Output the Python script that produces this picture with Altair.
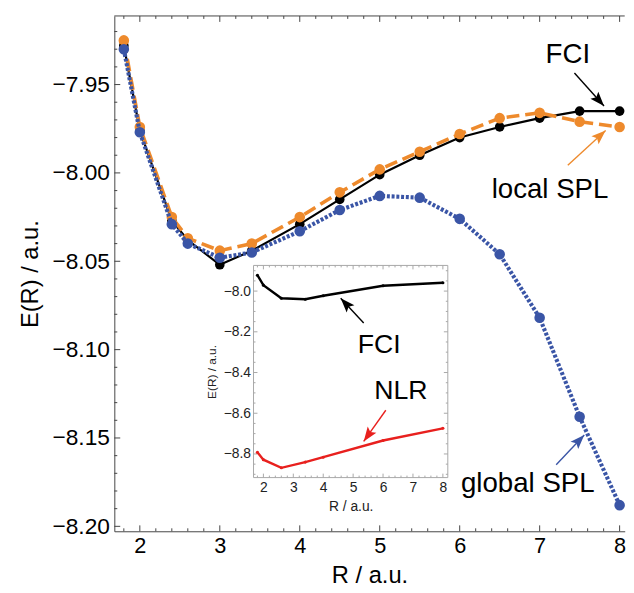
import math
import altair as alt
import pandas as pd

# ---------------- data ----------------
R_main = [1.8, 2.0, 2.4, 2.6, 3.0, 3.4, 4.0, 4.5, 5.0, 5.5, 6.0, 6.5, 7.0, 7.5, 8.0]
E_fci = [-7.928, -7.976, -8.027, -8.038, -8.052, -8.044, -8.029, -8.015,
         -8.001, -7.990, -7.980, -7.974, -7.969, -7.965, -7.965]
E_local = [-7.925, -7.974, -8.025, -8.037, -8.044, -8.040, -8.025, -8.011,
           -7.998, -7.988, -7.978, -7.969, -7.966, -7.971, -7.974]
E_global = [-7.930, -7.977, -8.029, -8.040, -8.048, -8.045, -8.033, -8.021,
            -8.013, -8.014, -8.026, -8.046, -8.082, -8.138, -8.188]

R_inset = [1.8, 2.0, 2.6, 3.4, 4.0, 6.0, 8.0]
E_fci_inset = [-7.922, -7.971, -8.035, -8.040, -8.023, -7.974, -7.959]
E_nlr_inset = [-8.792, -8.828, -8.868, -8.840, -8.816, -8.734, -8.674]

main_xticks = [2, 3, 4, 5, 6, 7, 8]
main_yticks = [-7.95, -8.00, -8.05, -8.10, -8.15, -8.20]
inset_xticks = [2, 3, 4, 5, 6, 7, 8]
inset_yticks = [-8.0, -8.2, -8.4, -8.6, -8.8]

main_labels = ["FCI", "local SPL", "global SPL"]
main_label_R = [7.352, 7.13, 6.852]
main_label_E = [-7.9334, -8.0097, -8.1759]
main_arrow_R0 = [7.435, 7.352, 7.207]
main_arrow_E0 = [-7.9435, -7.9956, -8.1651]
main_arrow_R1 = [7.805, 7.825, 7.558]
main_arrow_E1 = [-7.9621, -7.9760, -8.1483]

inset_labels = ["FCI", "NLR"]
inset_label_R = [5.871, 6.597]
inset_label_E = [-8.2667, -8.4897]
inset_arrow_R0 = [5.353, 6.092]
inset_arrow_E0 = [-8.1566, -8.5852]
inset_arrow_R1 = [4.584, 5.353]
inset_arrow_E1 = [-8.0354, -8.7384]

# ---------------- style / layout ----------------
BLACK = "#000000"
ORANGE = "#EE8A2C"
BLUE = "#3A55A6"
RED = "#E8201E"
FRAME = "#444444"
INSET_FRAME = "#A8A8A8"
FONT = "Liberation Sans"

W, H = 517, 522
XDOM = [1.681, 1.681 + W / 81.0]
YDOM = [-8.2028, -8.2028 + H / 1790.0]
SX, SY = 81.0, 1790.0

IX0, IX1 = 141.0, 337.8
IY_TOP, IY_BOT = 252.7, 467.6
IXDOM = [1.67, 8.165]
IYDOM = [-8.916, -7.874]
ISX = (IX1 - IX0) / (IXDOM[1] - IXDOM[0])
ISY = (IY_BOT - IY_TOP) / (IYDOM[1] - IYDOM[0])

HEAD = "M0,0L0.55,1.5L0,1.2L-0.55,1.5Z"

xs_main = alt.Scale(domain=XDOM, nice=False, zero=False)
ys_main = alt.Scale(domain=YDOM, nice=False, zero=False)
xs_in = alt.Scale(domain=IXDOM, nice=False, zero=False, range=[IX0, IX1])
ys_in = alt.Scale(domain=IYDOM, nice=False, zero=False, range=[IY_BOT, IY_TOP])


def angle(r0, e0, r1, e1, sx, sy):
    dx = (r1 - r0) * sx
    dy = -(e1 - e0) * sy
    return math.degrees(math.atan2(dx, -dy)) % 360


def minor(lo, hi, step, majors):
    n = int(round((hi - lo) / step))
    vals = [round(lo + i * step, 4) for i in range(n + 1)]
    return [v for v in vals if all(abs(v - m) > 1e-6 for m in majors)]


# ---------------- main plot ----------------
df_main = pd.DataFrame({"R": R_main, "fci": E_fci, "loc": E_local, "glob": E_global})

x_axis = alt.Axis(values=main_xticks, format="d", ticks=False, tickSize=0, grid=False,
                  domainColor=FRAME, domainWidth=1, labelFontSize=22, labelColor="black",
                  labelPadding=5, title="R / a.u.", titleFontSize=24, titleFontWeight="normal",
                  titleColor="black", titlePadding=7)
y_axis = alt.Axis(values=main_yticks, format=".2f", ticks=False, tickSize=0, grid=False,
                  domainColor=FRAME, domainWidth=1, labelFontSize=23, labelColor="black",
                  labelPadding=5, title="E(R) / a.u.", titleFontSize=24, titleFontWeight="normal",
                  titleColor="black", titlePadding=10)

base = alt.Chart(df_main)
fci_line = base.mark_line(color=BLACK, strokeWidth=2.2).encode(
    x=alt.X("R:Q", scale=xs_main, axis=x_axis),
    y=alt.Y("fci:Q", scale=ys_main, axis=y_axis))
fci_pts = base.mark_circle(color=BLACK, size=95, opacity=1).encode(
    x=alt.X("R:Q", scale=xs_main), y=alt.Y("fci:Q", scale=ys_main))
loc_line = base.mark_line(color=ORANGE, strokeWidth=3.6, strokeDash=[13, 6]).encode(
    x=alt.X("R:Q", scale=xs_main), y=alt.Y("loc:Q", scale=ys_main))
loc_pts = base.mark_circle(color=ORANGE, size=115, opacity=1).encode(
    x=alt.X("R:Q", scale=xs_main), y=alt.Y("loc:Q", scale=ys_main))
glob_line = base.mark_line(color=BLUE, strokeWidth=4.2, strokeDash=[3, 1.8]).encode(
    x=alt.X("R:Q", scale=xs_main), y=alt.Y("glob:Q", scale=ys_main))
glob_pts = base.mark_circle(color=BLUE, size=115, opacity=1).encode(
    x=alt.X("R:Q", scale=xs_main), y=alt.Y("glob:Q", scale=ys_main))

# frame top line and inward ticks
frame_df = pd.DataFrame({"k": [0]})
top_line = alt.Chart(frame_df).mark_rule(color=FRAME, strokeWidth=1).encode(
    x=alt.value(0), x2=alt.value(W), y=alt.value(0))

mx_minor = minor(1.8, 8.0, 0.2, main_xticks)
my_minor = minor(-8.20, -7.92, 0.01, main_yticks)


def xtick_layer(vals, y0, y1, scale, color):
    return alt.Chart(pd.DataFrame({"R": vals})).mark_rule(color=color, strokeWidth=1).encode(
        x=alt.X("R:Q", scale=scale), y=alt.value(y0), y2=alt.value(y1))


def ytick_layer(vals, x0, x1, scale, color, field):
    return alt.Chart(pd.DataFrame({field: vals})).mark_rule(color=color, strokeWidth=1).encode(
        y=alt.Y(f"{field}:Q", scale=scale), x=alt.value(x0), x2=alt.value(x1))


main_ticks = [
    xtick_layer(main_xticks, H, H - 6, xs_main, FRAME),
    xtick_layer(mx_minor, H, H - 3, xs_main, FRAME),
    xtick_layer(main_xticks, 0, 6, xs_main, FRAME),
    xtick_layer(mx_minor, 0, 3, xs_main, FRAME),
    ytick_layer(main_yticks, 0, 6, ys_main, FRAME, "fci"),
    ytick_layer(my_minor, 0, 3, ys_main, FRAME, "fci"),
]

# main annotations
df_mlab = pd.DataFrame({"R": main_label_R, "fci": main_label_E, "t": main_labels})
main_text = alt.Chart(df_mlab).mark_text(fontSize=28, font=FONT, color="black",
                                         align="center", baseline="middle").encode(
    x=alt.X("R:Q", scale=xs_main), y=alt.Y("fci:Q", scale=ys_main), text="t:N")

main_colors = [BLACK, ORANGE, BLUE]
df_marr = pd.DataFrame({
    "R": main_arrow_R0, "fci": main_arrow_E0, "R1": main_arrow_R1, "E1": main_arrow_E1,
    "c": main_colors,
    "ang": [angle(a, b, c, d, SX, SY) for a, b, c, d in
            zip(main_arrow_R0, main_arrow_E0, main_arrow_R1, main_arrow_E1)],
})
main_shaft = alt.Chart(df_marr).mark_rule(strokeWidth=1.4).encode(
    x=alt.X("R:Q", scale=xs_main), y=alt.Y("fci:Q", scale=ys_main),
    x2="R1:Q", y2="E1:Q", color=alt.Color("c:N", scale=None))
main_head = alt.Chart(df_marr).mark_point(shape=HEAD, filled=True, size=380, opacity=1,
                                          strokeWidth=0).encode(
    x=alt.X("R1:Q", scale=xs_main), y=alt.Y("E1:Q", scale=ys_main),
    angle=alt.Angle("ang:Q", scale=None), color=alt.Color("c:N", scale=None))

main_layer = alt.layer(
    fci_line, *main_ticks, top_line, fci_pts, loc_line, loc_pts, glob_line, glob_pts,
    main_text, main_shaft, main_head)

# ---------------- inset ----------------
df_in = pd.DataFrame({"R": R_inset, "fci": E_fci_inset, "nlr": E_nlr_inset})

ix_axis = alt.Axis(orient="bottom", offset=-(H - IY_BOT), values=inset_xticks, format="d",
                   ticks=False, tickSize=0, domain=False, grid=False, labelFontSize=14,
                   labelColor="#222", labelPadding=3, title="R / a.u.", titleFontSize=14,
                   titleFontWeight="normal", titleColor="#222", titlePadding=5)
iy_axis = alt.Axis(orient="left", offset=-IX0, values=inset_yticks, format=".1f",
                   ticks=False, tickSize=0, domain=False, grid=False, labelFontSize=14,
                   labelColor="#222", labelPadding=3, title="E(R) / a.u.", titleFontSize=12,
                   titleFontWeight="normal", titleColor="#222", titlePadding=5)

df_box = pd.DataFrame({"R": [IXDOM[0]], "fci": [IYDOM[0]], "R2": [IXDOM[1]], "E2": [IYDOM[1]]})
inset_box = alt.Chart(df_box).mark_rect(fill="white", stroke=INSET_FRAME, strokeWidth=1).encode(
    x=alt.X("R:Q", scale=xs_in, axis=ix_axis), y=alt.Y("fci:Q", scale=ys_in, axis=iy_axis),
    x2="R2:Q", y2="E2:Q")

ix_minor = minor(1.8, 8.0, 0.2, inset_xticks)
iy_minor = minor(-8.9, -7.9, 0.05, inset_yticks)
inset_ticks = [
    xtick_layer(inset_xticks, IY_BOT, IY_BOT - 4, xs_in, INSET_FRAME),
    xtick_layer(ix_minor, IY_BOT, IY_BOT - 2, xs_in, INSET_FRAME),
    xtick_layer(inset_xticks, IY_TOP, IY_TOP + 4, xs_in, INSET_FRAME),
    xtick_layer(ix_minor, IY_TOP, IY_TOP + 2, xs_in, INSET_FRAME),
    ytick_layer(inset_yticks, IX0, IX0 + 4, ys_in, INSET_FRAME, "fci"),
    ytick_layer(iy_minor, IX0, IX0 + 2, ys_in, INSET_FRAME, "fci"),
    ytick_layer(inset_yticks, IX1, IX1 - 4, ys_in, INSET_FRAME, "fci"),
    ytick_layer(iy_minor, IX1, IX1 - 2, ys_in, INSET_FRAME, "fci"),
]

ibase = alt.Chart(df_in)
in_fci = ibase.mark_line(color=BLACK, strokeWidth=2.4, point=alt.OverlayMarkDef(
    filled=True, size=10, color=BLACK)).encode(
    x=alt.X("R:Q", scale=xs_in), y=alt.Y("fci:Q", scale=ys_in))
in_nlr = ibase.mark_line(color=RED, strokeWidth=2.4, point=alt.OverlayMarkDef(
    filled=True, size=10, color=RED)).encode(
    x=alt.X("R:Q", scale=xs_in), y=alt.Y("nlr:Q", scale=ys_in))

df_ilab = pd.DataFrame({"R": inset_label_R, "fci": inset_label_E, "t": inset_labels})
in_text = alt.Chart(df_ilab).mark_text(fontSize=27, font=FONT, color="black",
                                       align="center", baseline="middle").encode(
    x=alt.X("R:Q", scale=xs_in), y=alt.Y("fci:Q", scale=ys_in), text="t:N")

df_iarr = pd.DataFrame({
    "R": inset_arrow_R0, "fci": inset_arrow_E0, "R1": inset_arrow_R1, "E1": inset_arrow_E1,
    "c": [BLACK, RED],
    "ang": [angle(a, b, c, d, ISX, ISY) for a, b, c, d in
            zip(inset_arrow_R0, inset_arrow_E0, inset_arrow_R1, inset_arrow_E1)],
})
in_shaft = alt.Chart(df_iarr).mark_rule(strokeWidth=1.4).encode(
    x=alt.X("R:Q", scale=xs_in), y=alt.Y("fci:Q", scale=ys_in),
    x2="R1:Q", y2="E1:Q", color=alt.Color("c:N", scale=None))
in_head = alt.Chart(df_iarr).mark_point(shape=HEAD, filled=True, size=380, opacity=1,
                                        strokeWidth=0).encode(
    x=alt.X("R1:Q", scale=xs_in), y=alt.Y("E1:Q", scale=ys_in),
    angle=alt.Angle("ang:Q", scale=None), color=alt.Color("c:N", scale=None))

inset_layer = alt.layer(inset_box, *inset_ticks, in_fci, in_nlr, in_text, in_shaft, in_head)

chart = alt.layer(main_layer, inset_layer).resolve_scale(
    x="independent", y="independent"
).properties(
    width=W, height=H, autosize="none",
    padding={"left": 107.7, "top": 4.3, "right": 1.3, "bottom": 55},
).configure(font=FONT).configure_view(stroke=None)

chart.save("out.html", embed_options={"renderer": "svg", "actions": False})
